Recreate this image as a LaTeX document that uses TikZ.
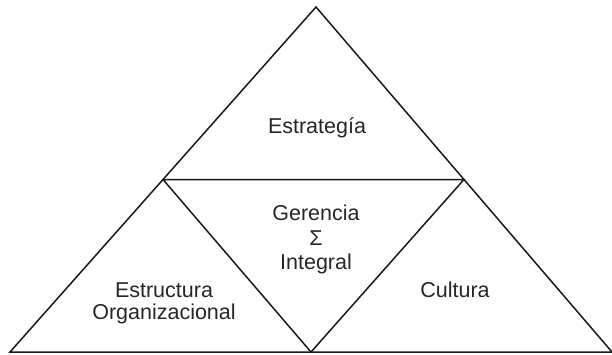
\documentclass[tikz,border=0pt]{standalone}
\usepackage{fontspec}
\setmainfont{Liberation Sans}
\usetikzlibrary{calc}
\begin{document}
\begin{tikzpicture}[x=1pt,y=-1pt,
  edge/.style={line width=1.5pt, draw=black!90, line join=miter},
  lbl/.style={anchor=base, inner sep=0pt, text=black!85, font=\fontsize{21.5}{24.5}\selectfont}]
\useasboundingbox (0,0) rectangle (612,354);
\coordinate (A) at (316,7);
\coordinate (L) at (10,352);
\coordinate (R) at (612,352);
\coordinate (ML) at ($(A)!0.5!(L)$);
\coordinate (MR) at ($(A)!0.5!(R)$);
\coordinate (MB) at ($(L)!0.5!(R)$);
\draw[edge] (A) -- (L) -- (R) -- cycle;
\draw[edge] (ML) -- (MR) -- (MB) -- cycle;
\node[lbl] (est) at (317,133) {Estrategía};
\node[lbl] (ger) at (316,220) {Gerencia};
\node[lbl] (sig) at (316,245) {Σ};
\node[lbl] (int) at (316,269) {Integral};
\node[lbl] (estr) at (164,297) {Estructura};
\node[lbl] (org) at (164,319) {Organizacional};
\node[lbl] (cul) at (455,297) {Cultura};
\end{tikzpicture}
\end{document}
